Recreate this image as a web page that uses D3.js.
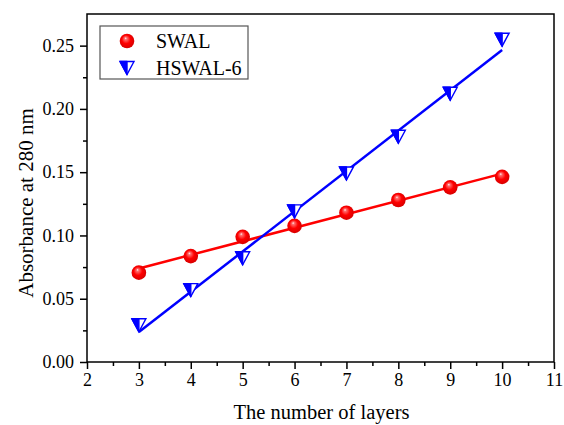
<!DOCTYPE html>
<html>
<head>
<meta charset="utf-8">
<script src="https://cdn.jsdelivr.net/npm/d3@7"></script>
<style>
  body { margin: 0; background: #fff; }
  svg { display: block; }
  text { font-family: "Liberation Serif", "Times New Roman", serif; fill: #000; }
</style>
</head>
<body>
<svg id="chart" width="564" height="425"></svg>
<script>
// Number of deposited layers
const layers = [3, 4, 5, 6, 7, 8, 9, 10];
// Absorbance at 280 nm for each film
const swal = [0.0706, 0.0837, 0.0989, 0.1076, 0.118, 0.128, 0.138, 0.1463];
const hswal6 = [0.029, 0.0568, 0.082, 0.119, 0.149, 0.178, 0.212, 0.2547];
const xTicks = [2, 3, 4, 5, 6, 7, 8, 9, 10, 11];
const yTicks = [0.00, 0.05, 0.10, 0.15, 0.20, 0.25];
const seriesNames = ["SWAL", "HSWAL-6"];

const svg = d3.select("#chart");
const m = { left: 87, right: 554, top: 14, bottom: 362 };

const x = d3.scaleLinear().domain([2, 11]).range([m.left, m.right]);
const y = d3.scaleLinear().domain([0, 0.275]).range([m.bottom, m.top]);

// Least-squares line through a series
function fit(xs, ys) {
  const mx = d3.mean(xs), my = d3.mean(ys);
  const sxy = d3.sum(xs, (v, i) => (v - mx) * (ys[i] - my));
  const sxx = d3.sum(xs, v => (v - mx) * (v - mx));
  const b = sxy / sxx;
  return v => my + b * (v - mx);
}

// Sphere shading for the round markers
const defs = svg.append("defs");
const grad = defs.append("radialGradient").attr("id", "sphere")
  .attr("cx", "48%").attr("cy", "48%").attr("r", "58%")
  .attr("fx", "40%").attr("fy", "30%");
grad.append("stop").attr("offset", "0%").attr("stop-color", "#ffffff");
grad.append("stop").attr("offset", "14%").attr("stop-color", "#ff7070");
grad.append("stop").attr("offset", "50%").attr("stop-color", "#ff0000");
grad.append("stop").attr("offset", "100%").attr("stop-color", "#d00000");

// Axes with outward major and minor ticks
const xAxis = d3.axisBottom(x).tickValues(xTicks).tickFormat(d3.format("d")).tickSize(7).tickPadding(4);
const xMinor = d3.axisBottom(x).tickValues(d3.range(2.5, 11, 1)).tickFormat("").tickSize(4);
const yAxis = d3.axisLeft(y).tickValues(yTicks).tickFormat(d3.format(".2f")).tickSize(7).tickPadding(6);
const yMinor = d3.axisLeft(y).tickValues(d3.range(0.025, 0.275, 0.05)).tickFormat("").tickSize(4);

function style(g) {
  g.attr("font-family", null);
  g.select(".domain").remove();
  g.selectAll("line").attr("stroke", "#000").attr("stroke-width", 1.5);
  g.selectAll("text").style("font-family", "'Liberation Serif', serif").style("font-size", "18px").attr("fill", "#000");
}

svg.append("g").attr("transform", `translate(0,${m.bottom})`).call(xAxis).call(style);
svg.append("g").attr("transform", `translate(0,${m.bottom})`).call(xMinor).call(style);
svg.append("g").attr("transform", `translate(${m.left},0)`).call(yAxis).call(style);
svg.append("g").attr("transform", `translate(${m.left},0)`).call(yMinor).call(style);

// Frame
svg.append("rect")
  .attr("x", m.left).attr("y", m.top)
  .attr("width", m.right - m.left).attr("height", m.bottom - m.top)
  .attr("fill", "none").attr("stroke", "#000").attr("stroke-width", 1.5);

// Axis titles
svg.append("text").attr("x", 321.5).attr("y", 419)
  .attr("text-anchor", "middle").style("font-size", "20.5px").text("The number of layers");
svg.append("text").attr("transform", `translate(33,203) rotate(-90)`)
  .attr("text-anchor", "middle").style("font-size", "21px").text("Absorbance at 280 nm");

// Fitted lines
const xEnds = [d3.min(layers), d3.max(layers)];
const line = d3.line().x(d => x(d[0])).y(d => y(d[1]));
const fRed = fit(layers, swal), fBlue = fit(layers, hswal6);
svg.append("path").datum(xEnds.map(v => [v, fRed(v)])).attr("d", line)
  .attr("stroke", "#ff0000").attr("stroke-width", 2.5).attr("fill", "none");
svg.append("path").datum(xEnds.map(v => [v, fBlue(v)])).attr("d", line)
  .attr("stroke", "#0000ff").attr("stroke-width", 2.5).attr("fill", "none");

// Marker drawing helpers
function sphere(g, cx, cy) {
  g.append("circle").attr("cx", cx).attr("cy", cy).attr("r", 7.3).attr("fill", "url(#sphere)");
}
function halfTriangle(g, cx, cy) {
  const w = 7, h = 6.5;
  g.append("path")
    .attr("d", `M${cx - w},${cy - h}L${cx + w},${cy - h}L${cx},${cy + h}Z`)
    .attr("fill", "#fff").attr("stroke", "#0000ff").attr("stroke-width", 1.4);
  g.append("path")
    .attr("d", `M${cx - w},${cy - h}L${cx},${cy - h}L${cx},${cy + h}Z`)
    .attr("fill", "#0000ff").attr("stroke", "#0000ff").attr("stroke-width", 1.4)
    .attr("stroke-linejoin", "round");
}

const pts = svg.append("g");
layers.forEach((v, i) => sphere(pts, x(v), y(swal[i])));
layers.forEach((v, i) => halfTriangle(pts, x(v), y(hswal6[i])));

// Legend
const lg = svg.append("g");
lg.append("rect").attr("x", 100).attr("y", 26).attr("width", 148).attr("height", 53)
  .attr("fill", "#fff").attr("stroke", "#555").attr("stroke-width", 1.2);
sphere(lg, 127, 41);
halfTriangle(lg, 127, 68);
lg.append("text").attr("x", 156).attr("y", 47.5).style("font-size", "20px").text(seriesNames[0]);
lg.append("text").attr("x", 156).attr("y", 74.5).style("font-size", "20px").text(seriesNames[1]);
</script>
</body>
</html>
